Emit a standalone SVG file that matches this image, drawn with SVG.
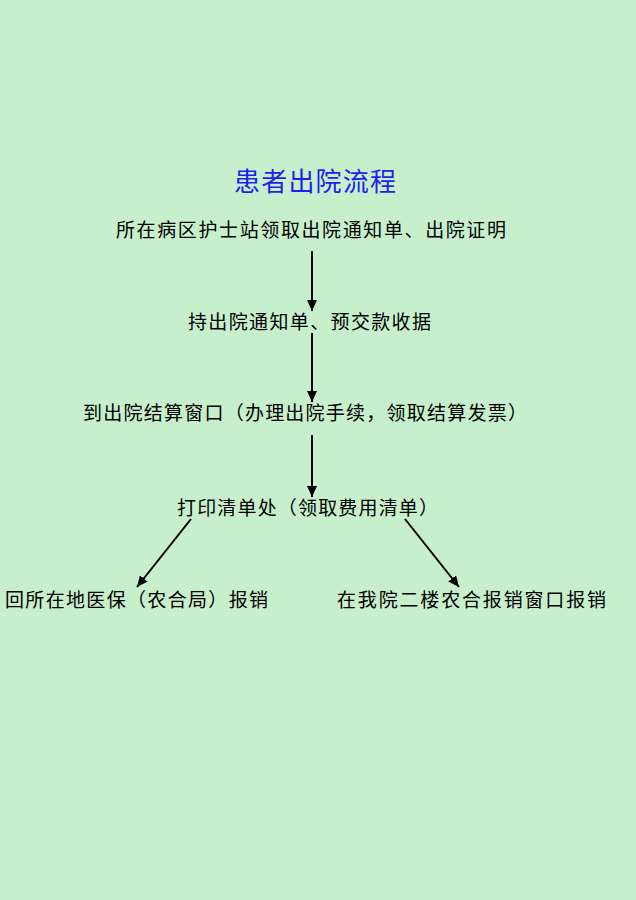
<svg xmlns="http://www.w3.org/2000/svg" width="636" height="900" viewBox="0 0 636 900">
  <style>
    .t { font-family: "Noto Sans CJK SC", "Noto Sans", sans-serif; font-size: 19px; fill: #000; }
    .title { font-family: "Noto Sans CJK SC", "Noto Sans", sans-serif; font-size: 26px; fill: #1f1fef; }
    .c { stroke: #000; stroke-width: 2; fill: none; marker-end: url(#ah); }
  </style>
  <defs>
    <marker id="ah" markerUnits="userSpaceOnUse" markerWidth="11" markerHeight="10" refX="11" refY="5" orient="auto">
      <path d="M0,0 L11,5 L0,10 z" fill="#000"/>
    </marker>
  </defs>
  <rect x="0" y="0" width="636" height="900" fill="#c7efcc"/>
  <g id="title"><text class="title" x="234" y="191" textLength="162" lengthAdjust="spacing">患者出院流程</text></g>
  <g id="n1"><text class="t" x="116" y="236.5" textLength="390" lengthAdjust="spacing">所在病区护士站领取出院通知单、出院证明</text></g>
  <g id="n2"><text class="t" x="188" y="329" textLength="243" lengthAdjust="spacing">持出院通知单、预交款收据</text></g>
  <g id="n3"><text class="t" x="83" y="420" textLength="444" lengthAdjust="spacing">到出院结算窗口（办理出院手续，领取结算发票）</text></g>
  <g id="n4"><text class="t" x="177" y="515" textLength="261" lengthAdjust="spacing">打印清单处（领取费用清单）</text></g>
  <g id="n5"><text class="t" x="5" y="607" textLength="263" lengthAdjust="spacing">回所在地医保（农合局）报销</text></g>
  <g id="n6"><text class="t" x="337" y="607" textLength="269" lengthAdjust="spacing">在我院二楼农合报销窗口报销</text></g>
  <g id="connectors">
    <line class="c" x1="312" y1="251" x2="312" y2="311"/>
    <line class="c" x1="312" y1="333" x2="312" y2="402"/>
    <line class="c" x1="312" y1="435" x2="312" y2="497"/>
    <line class="c" x1="191" y1="519" x2="137" y2="587"/>
    <line class="c" x1="405" y1="519" x2="459" y2="587"/>
  </g>
</svg>
